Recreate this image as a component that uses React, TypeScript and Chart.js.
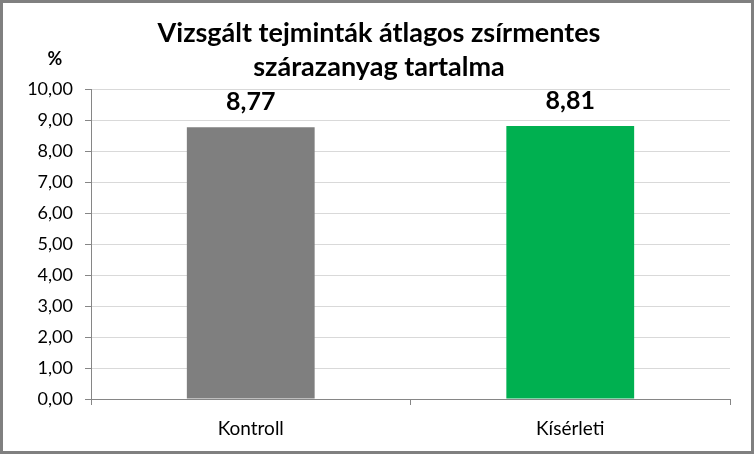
import { useEffect, useRef } from "react";
import { Chart, registerables } from "chart.js";

Chart.register(...registerables);

const categories = ["Kontroll", "Kísérleti"];
const values = [8.77, 8.81];
const barColors = ["#7F7F7F", "#00B050"];
const titleLines = ["Vizsgált tejminták átlagos zsírmentes", "szárazanyag tartalma"];
const unitLabel = "%";

const FONT = "Lato, 'Open Sans', sans-serif";

const fmt = (v: number) => v.toFixed(2).replace(".", ",");

// draws title, unit label and the value labels above the bars
const textPlugin = {
  id: "texts",
  afterDatasetsDraw(chart: Chart) {
    const ctx = chart.ctx;
    ctx.save();
    ctx.fillStyle = "#000";
    ctx.textAlign = "center";
    ctx.textBaseline = "middle";
    ctx.font = `bold 27px ${FONT}`;
    ctx.fillText(titleLines[0], chart.width / 2 + 2, 30);
    ctx.fillText(titleLines[1], chart.width / 2 + 2, 64);

    ctx.font = `bold 18px ${FONT}`;
    ctx.fillText(unitLabel, 52, 56);

    ctx.font = `bold 25px ${FONT}`;
    ctx.textBaseline = "alphabetic";
    const meta = chart.getDatasetMeta(0);
    meta.data.forEach((bar: any, i: number) => {
      ctx.fillText(fmt(values[i]), bar.x, bar.y - 17);
    });
    ctx.restore();
  },
};

export default function App() {
  const canvasRef = useRef<HTMLCanvasElement>(null);
  const chartRef = useRef<Chart | null>(null);

  useEffect(() => {
    if (!canvasRef.current) return;
    if (chartRef.current) chartRef.current.destroy();

    chartRef.current = new Chart(canvasRef.current, {
      type: "bar",
      data: {
        labels: categories,
        datasets: [
          {
            data: values,
            backgroundColor: barColors,
            barPercentage: 0.4,
            categoryPercentage: 1,
          },
        ],
      },
      options: {
        responsive: false,
        animation: false,
        layout: { padding: { top: 86, right: 21, left: 0, bottom: 0 } },
        plugins: {
          legend: { display: false },
          title: { display: false },
          tooltip: { enabled: false },
        },
        scales: {
          x: {
            grid: {
              display: true,
              drawOnChartArea: false,
              drawTicks: true,
              tickLength: 6,
              tickColor: "#868686",
              offset: true,
            },
            border: { color: "#868686", width: 1 },
            ticks: {
              color: "#000",
              padding: 12,
              font: { family: FONT, size: 19 },
            },
            afterFit(scale: any) {
              scale.height = 52;
            },
          },
          y: {
            min: 0,
            max: 10,
            ticks: {
              stepSize: 1,
              color: "#000",
              padding: 12,
              font: { family: FONT, size: 18 },
              callback: (v: any) => fmt(Number(v)),
            },
            grid: {
              color: "#D9D9D9",
              tickColor: "#868686",
              tickLength: 6,
            },
            border: { color: "#868686", width: 1 },
            afterFit(scale: any) {
              scale.width = 88;
            },
          },
        },
      },
      plugins: [textPlugin],
    });

    return () => {
      if (chartRef.current) chartRef.current.destroy();
    };
  }, []);

  return (
    <div
      style={{
        position: "absolute",
        left: 0,
        top: 0,
        width: 754,
        height: 454,
        boxSizing: "border-box",
        border: "3px solid #808080",
        background: "#fff",
      }}
    >
      <canvas ref={canvasRef} width={748} height={448} style={{ display: "block" }} />
    </div>
  );
}
